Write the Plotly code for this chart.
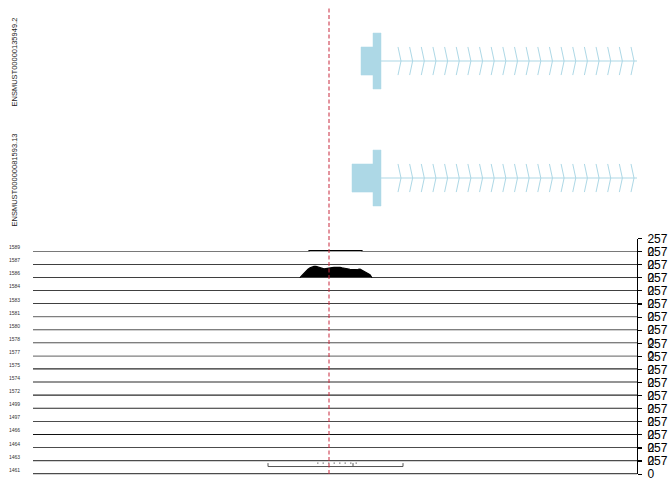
import plotly.graph_objects as go
import numpy as np

W, H = 672, 480

# ---------------- data ----------------
track_labels = ["1589", "1587", "1586", "1584", "1583", "1581", "1580", "1578", "1577",
                "1575", "1574", "1572", "1499", "1497", "1466", "1464", "1463", "1461"]
y_max = 257
region = [0, 604]            # plotted genomic window (relative position units)
highlight_pos = 296          # dashed vertical marker

tx_names = ["ENSMUST00000135949.2", "ENSMUST00000081593.13"]
tx_rows = [1, 2]
tx_utr_start = [328, 319]
tx_utr_end = [340, 340]
tx_cds_start = [340, 340]
tx_cds_end = [348, 348]
tx_end = [605, 605]
chevron_first = 365
chevron_last = 598
chevron_step = 11.65

# flat low-coverage segments per track: (start, end, value)
cov_segments = {
    "1589": [(276, 329, 18)],
    "1586": [(1, 7, 10), (11, 23, 10), (42, 60, 10), (102, 112, 10)],
    "1584": [(119, 125, 8), (130, 132, 8), (347, 362, 10)],
}
# detailed coverage profile of the main peak (track 1586)
peak_pos = [267, 269, 271, 273, 275, 277, 279, 281, 283, 285, 287, 289, 291, 293, 295,
            297, 299, 301, 303, 305, 307, 309, 311, 313, 315, 317, 319, 321, 323, 325,
            327, 329, 331, 333, 335, 337, 339]
peak_val = [0, 45, 90, 135, 170, 195, 215, 225, 228, 218, 205, 185, 175, 182, 192,
            196, 200, 205, 210, 212, 208, 198, 188, 175, 170, 168, 162, 160, 158, 168,
            172, 152, 130, 112, 95, 60, 0]

# junction bracket on last track
junc_x = [235, 235, 370, 370]
junc_y = [218, 150, 150, 218]
junc_mid_x = [320, 320]
junc_mid_y = [150, 218]
junc_dot_x = [284, 324]
junc_dot_y = [218, 218]

# ---------------- layout helpers ----------------
x_left, x_right = 33, 637
baseline0, track_h = 251.7, 13.09
blue = "#ADD8E6"
FONT = "Liberation Sans, Arial, sans-serif"

fig = go.Figure()

def track_axis(i):
    return f"y{i + 2}"

# ---- transcript panel (yaxis 'y') ----
for r, name, us, ue, cs, ce, te in zip(tx_rows, tx_names, tx_utr_start, tx_utr_end,
                                        tx_cds_start, tx_cds_end, tx_end):
    fig.add_trace(go.Scatter(x=[ce, te], y=[r, r], mode="lines",
                             line=dict(color=blue, width=1.2), xaxis="x", yaxis="y",
                             hoverinfo="skip", showlegend=False))
    cx, cy = [], []
    for p in np.arange(chevron_first, chevron_last + 0.1, chevron_step):
        cx += [p, p + 3, p, None]
        cy += [r - 0.12, r, r + 0.12, None]
    fig.add_trace(go.Scatter(x=cx, y=cy, mode="lines",
                             line=dict(color=blue, width=1), xaxis="x", yaxis="y",
                             hoverinfo="skip", showlegend=False))
    fig.add_trace(go.Scatter(x=[us, ue, ue, us, us], y=[r - 0.12, r - 0.12, r + 0.12, r + 0.12, r - 0.12],
                             mode="lines", fill="toself", fillcolor=blue,
                             line=dict(color=blue, width=0.5), xaxis="x", yaxis="y",
                             hoverinfo="skip", showlegend=False))
    fig.add_trace(go.Scatter(x=[cs, ce, ce, cs, cs], y=[r - 0.239, r - 0.239, r + 0.239, r + 0.239, r - 0.239],
                             mode="lines", fill="toself", fillcolor=blue,
                             line=dict(color=blue, width=0.5), xaxis="x", yaxis="y",
                             hoverinfo="skip", showlegend=False))

# ---- coverage tracks ----
layout_axes = {}
for i, lab in enumerate(track_labels):
    pieces = []
    for (s, e, v) in cov_segments.get(lab, []):
        pieces.append((s, [s, s, e, e], [0, v, v, 0]))
    if lab == "1586":
        pieces.append((peak_pos[0], peak_pos, peak_val))
    pieces.sort(key=lambda t: t[0])
    xs, ys = [region[0]], [0]
    for _, px, py in pieces:
        xs += list(px)
        ys += list(py)
    xs.append(region[1])
    ys.append(0)
    if 9 <= i <= 12:
        lw, lc = 2.0, "#2a2a2a"
    elif i >= 13:
        lw, lc = 1.5, "#111111"
    else:
        lw, lc = 1.2, "#000000"
    ya = track_axis(i)
    fig.add_trace(go.Scatter(x=xs, y=ys, mode="lines", fill="tozeroy",
                             fillcolor="black", line=dict(color=lc, width=lw),
                             xaxis="x", yaxis=ya, hoverinfo="skip", showlegend=False))
    base = baseline0 + track_h * i
    top = base - track_h
    layout_axes[f"yaxis{i + 2}"] = dict(
        domain=[(H - base) / H, (H - top) / H], range=[-3, y_max],
        anchor="free", position=x_right / W, side="right",
        showline=True, linecolor="black", linewidth=1,
        ticks="outside", ticklen=4, tickcolor="black", tickwidth=1,
        tickvals=[0, y_max], ticktext=["0", str(y_max)],
        tickfont=dict(size=12, color="black", family=FONT),
        ticklabeloverflow="allow", ticklabelstandoff=3,
        showgrid=False, zeroline=False, fixedrange=True, automargin=False)
    fig.add_annotation(x=6.7 / W, y=(H - (base - 4.5)) / H, xref="paper", yref="paper",
                       text=lab, showarrow=False, xanchor="left", yanchor="middle",
                       font=dict(size=5, color="#333333", family=FONT))

# junction bracket on last track
last_ax = track_axis(len(track_labels) - 1)
fig.add_trace(go.Scatter(x=junc_x, y=junc_y, mode="lines", line=dict(color="#555555", width=1),
                         xaxis="x", yaxis=last_ax, hoverinfo="skip", showlegend=False))
fig.add_trace(go.Scatter(x=junc_mid_x, y=junc_mid_y, mode="lines", line=dict(color="#555555", width=1),
                         xaxis="x", yaxis=last_ax, hoverinfo="skip", showlegend=False))
fig.add_trace(go.Scatter(x=junc_dot_x, y=junc_dot_y, mode="lines",
                         line=dict(color="#444444", width=0.8, dash="1.5px,4px"),
                         xaxis="x", yaxis=last_ax, hoverinfo="skip", showlegend=False))

# transcript labels
tx_label_y = [62.5, 180.5]
for name, ly in zip(tx_names, tx_label_y):
    fig.add_annotation(x=14 / W, y=(H - ly) / H, xref="paper", yref="paper", text=name,
                       showarrow=False, textangle=-90, xanchor="center", yanchor="middle",
                       font=dict(size=7.5, color="#222222", family=FONT))

# dashed highlight line
fig.add_shape(type="line", xref="x", yref="paper", x0=highlight_pos, x1=highlight_pos,
              y0=(H - 474) / H, y1=(H - 6) / H,
              line=dict(color="rgb(200,40,60)", width=1, dash="4px,2.5px"))

fig.update_layout(
    width=W, height=H, margin=dict(l=0, r=0, t=0, b=0, autoexpand=False),
    paper_bgcolor="white", plot_bgcolor="white", showlegend=False,
    xaxis=dict(domain=[x_left / W, x_right / W], range=region, visible=False,
               fixedrange=True, automargin=False),
    yaxis=dict(domain=[(H - 235) / H, 1], range=[2.487, 0.4786], visible=False,
               anchor="x", fixedrange=True, automargin=False),
    **layout_axes,
)

fig.write_html("out.html")
